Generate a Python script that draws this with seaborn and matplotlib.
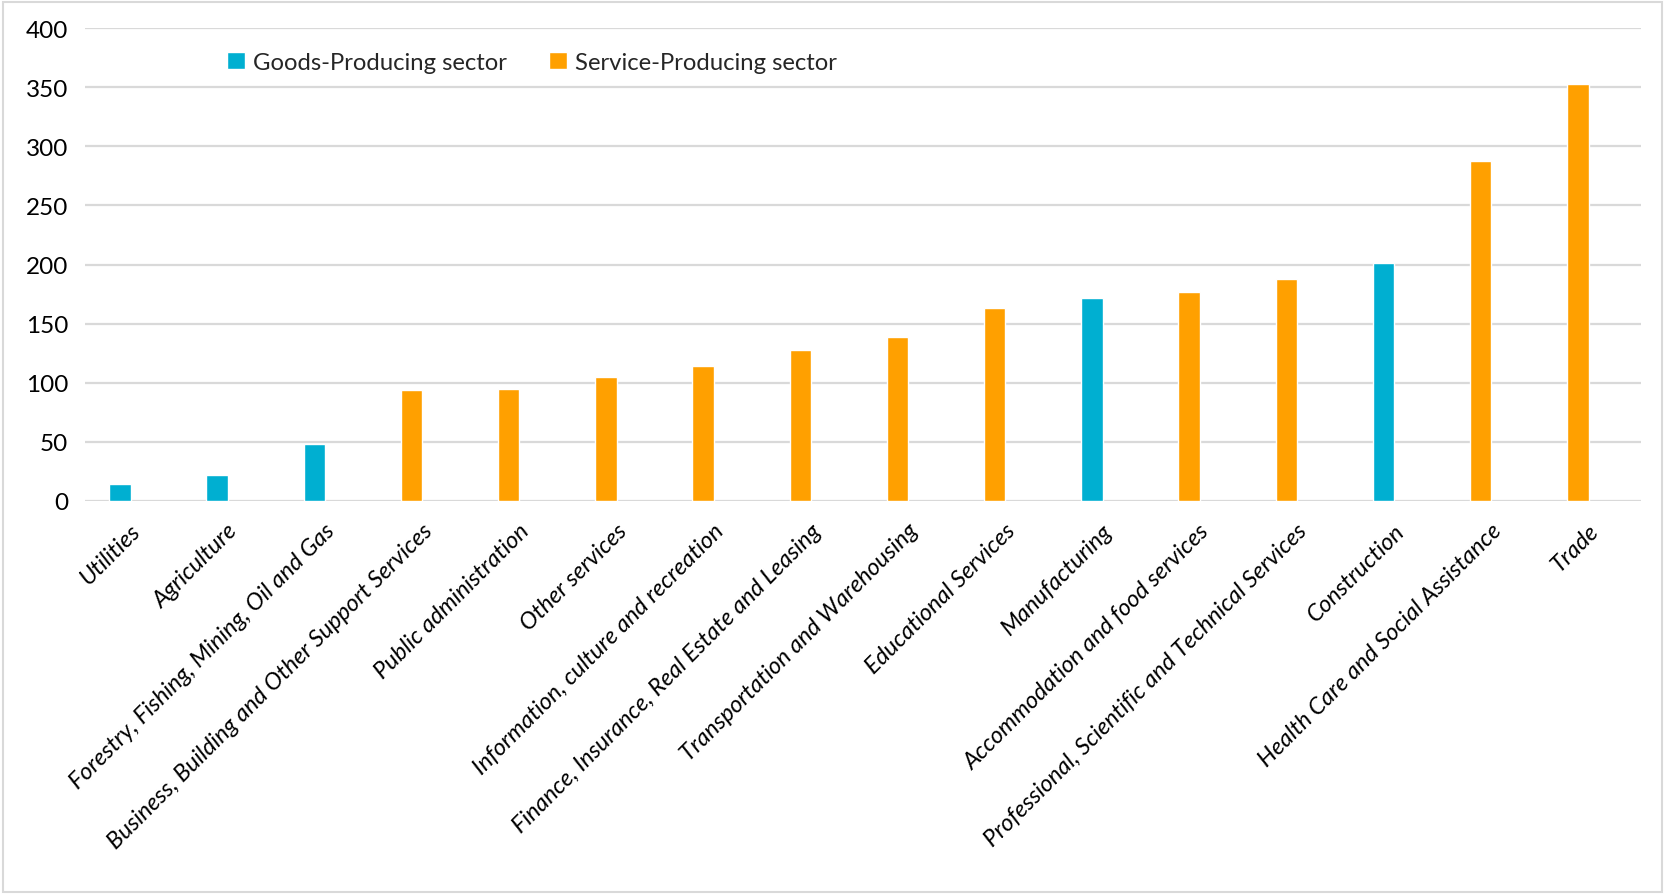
import matplotlib
matplotlib.use("Agg")
import matplotlib.pyplot as plt
import matplotlib.transforms as mtransforms
from matplotlib.patches import Patch, Rectangle
import seaborn as sns
import pandas as pd

# Employment by industry (thousands), sorted ascending
industries = [
    "Utilities",
    "Agriculture",
    "Forestry, Fishing, Mining, Oil and Gas",
    "Business, Building and Other Support Services",
    "Public administration",
    "Other services",
    "Information, culture and recreation",
    "Finance, Insurance, Real Estate and Leasing",
    "Transportation and Warehousing",
    "Educational Services",
    "Manufacturing",
    "Accommodation and food services",
    "Professional, Scientific and Technical Services",
    "Construction",
    "Health Care and Social Assistance",
    "Trade",
]
employment = [14, 22, 48, 94, 95, 105, 114, 128, 139, 163, 172, 177, 188, 201, 288, 353]
sector = [
    "Goods", "Goods", "Goods", "Service", "Service", "Service", "Service", "Service",
    "Service", "Service", "Goods", "Service", "Service", "Goods", "Service", "Service",
]
sector_labels = {"Goods": "Goods-Producing sector", "Service": "Service-Producing sector"}
y_ticks = [0, 50, 100, 150, 200, 250, 300, 350, 400]

GOODS = "#00AFD1"
SERVICE = "#FFA000"
GRID = "#D9D9D9"

sns.set_theme(style="white")
plt.rcParams["font.family"] = ["Lato", "DejaVu Sans"]

df = pd.DataFrame({"industry": industries, "employment": employment, "sector": sector})

fig = plt.figure(figsize=(16.66, 8.95), dpi=100)
ax = fig.add_axes([0.051, 0.4394, 0.934, 0.5279])

sns.barplot(
    data=df, x="industry", y="employment", hue="sector",
    palette={"Goods": GOODS, "Service": SERVICE},
    dodge=False, width=0.22, saturation=1, legend=False, ax=ax,
    order=industries, hue_order=["Goods", "Service"],
)

ax.set_ylim(0, 400)
ax.set_xlim(-0.36, 15.65)
ax.set_yticks(y_ticks)
ax.set_yticklabels([str(v) for v in y_ticks], fontsize=17.5, color="#000000")
ax.yaxis.grid(True, color=GRID, linewidth=1.6)
ax.set_axisbelow(True)
for s in ax.spines.values():
    s.set_visible(False)
ax.tick_params(axis="both", length=0)
ax.tick_params(axis="y", pad=12)
ax.set_xlabel("")
ax.set_ylabel("")

# Rotated italic category labels, anchored at their upper-right corner
ax.set_xticks(range(len(industries)))
ax.set_xticklabels(industries, rotation=45, ha="right", va="top",
                   rotation_mode="anchor", fontsize=17, fontstyle="italic",
                   color="#000000")
offset = mtransforms.ScaledTranslation(10 / 100, -14 / 100, fig.dpi_scale_trans)
for lbl in ax.get_xticklabels():
    lbl.set_transform(lbl.get_transform() + offset)

handles = [Patch(facecolor=GOODS, label=sector_labels["Goods"]),
           Patch(facecolor=SERVICE, label=sector_labels["Service"])]
fig.legend(handles=handles, loc="upper left", bbox_to_anchor=(227 / 1666, 1 - 53 / 895),
           ncol=2, frameon=False, fontsize=17.2, handlelength=0.75, handleheight=0.75,
           handletextpad=0.35, columnspacing=1.75, borderaxespad=0, borderpad=0)

# Thin chart-area frame
fig.patches.append(Rectangle((3 / 1666, 2 / 895), 1659 / 1666, 890 / 895,
                             transform=fig.transFigure, fill=False,
                             edgecolor="#D9D9D9", linewidth=1.5))

fig.savefig("out.png", dpi=100)
